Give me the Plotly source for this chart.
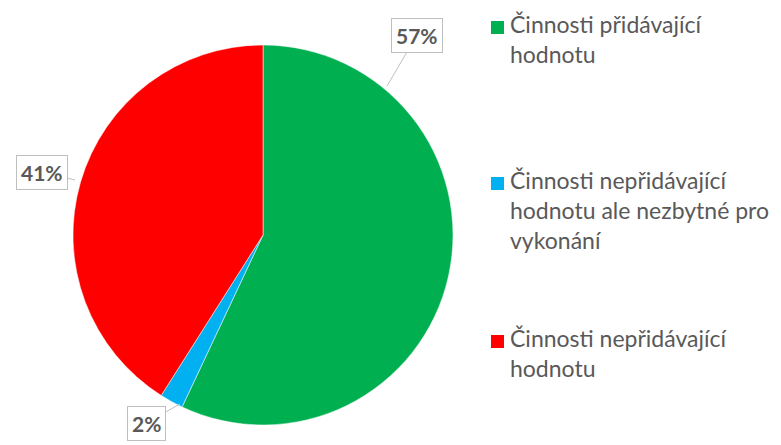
import plotly.graph_objects as go

categories = [
    "Činnosti přidávající hodnotu",
    "Činnosti nepřidávající hodnotu ale nezbytné pro vykonání",
    "Činnosti nepřidávající hodnotu",
]
legend_lines = [
    "Činnosti přidávající<br>hodnotu",
    "Činnosti nepřidávající<br>hodnotu ale nezbytné pro<br>vykonání",
    "Činnosti nepřidávající<br>hodnotu",
]
values = [57, 2, 41]
colors = ["#00B050", "#00B0F0", "#FF0000"]

W, H = 781, 445
cx, cy, r = 263, 235, 190

def px(x):
    return x / W

def py(y):
    return 1 - y / H

fig = go.Figure(go.Pie(
    labels=categories,
    values=values,
    sort=False,
    direction="clockwise",
    rotation=0,
    marker=dict(colors=colors, line=dict(color="white", width=0.5)),
    textinfo="none",
    hoverinfo="label+percent",
    showlegend=False,
    domain=dict(x=[px(cx - r), px(cx + r)], y=[py(cy + r), py(cy - r)]),
))

total = sum(values)
pct = [f"{round(v * 100 / total)}%" for v in values]

# label callouts: (anchor on pie edge, box offset)
callouts = [
    ((387, 86), (30, -51)),
    ((180, 404), (-34, 19)),
    ((75, 180), (-33, -8)),
]
for text, ((ax0, ay0), (dx, dy)) in zip(pct, callouts):
    fig.add_annotation(
        x=px(ax0), y=py(ay0), xref="paper", yref="paper",
        text=f"<b>{text}</b>",
        showarrow=True, arrowhead=0, arrowwidth=1, arrowcolor="#BFBFBF",
        ax=dx, ay=dy,
        font=dict(family="Lato, Open Sans, sans-serif", size=21, color="#595959"),
        bgcolor="white", bordercolor="#BFBFBF", borderwidth=1, borderpad=4,
    )

# legend
legend_tops = [8, 164, 322]
for txt, col, top in zip(legend_lines, colors, legend_tops):
    fig.add_shape(type="rect", xref="paper", yref="paper",
                  x0=px(491), x1=px(504), y0=py(top + 26), y1=py(top + 13),
                  fillcolor=col, line=dict(width=0))
    fig.add_annotation(
        x=px(508), y=py(top), xref="paper", yref="paper",
        xanchor="left", yanchor="top", align="left",
        text=txt, showarrow=False,
        font=dict(family="Lato, Open Sans, sans-serif", size=23, color="#595959"),
    )

fig.update_layout(
    width=W, height=H,
    margin=dict(l=0, r=0, t=0, b=0),
    paper_bgcolor="white", plot_bgcolor="white",
)
fig.write_html("out.html", post_script="document.body.style.margin='0';",
               config={"displayModeBar": False})
